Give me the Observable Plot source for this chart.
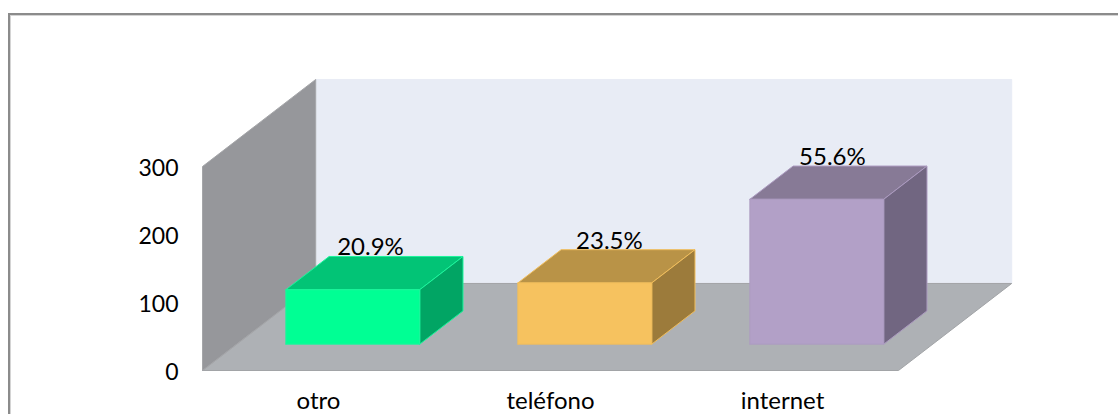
<!DOCTYPE html>
<html><head><meta charset="utf-8">
<script src="https://cdn.jsdelivr.net/npm/d3@7"></script>
<script src="https://cdn.jsdelivr.net/npm/@observablehq/plot@0.6"></script>
<style>
html,body{margin:0;padding:0;background:#fff;overflow:hidden}
#wrap{position:relative;width:1118px;height:414px}
#wrap svg{position:absolute;left:0;top:0;display:block}
#border{position:absolute;left:8px;top:13px;right:0;bottom:0;border-left:2px solid #8b8b8b;border-top:2px solid #8b8b8b;box-shadow:inset 1px 1px 0 #d4d4d4}
</style></head><body>
<div id="wrap"><div id="border"></div></div>
<script>
const categories = ["otro", "teléfono", "internet"];
const counts = [80, 90, 213];
const percents = ["20.9%", "23.5%", "55.6%"];
const tickValues = [0, 100, 200, 300];
const frontColors = ["#00ff94", "#f6c25f", "#b2a0c7"];
const topColors = ["#02c476", "#b99347", "#877a96"];
const sideColors = ["#01a564", "#9c7b3b", "#716681"];
const edgeColors = ["#1cf59c", "#f0bd5c", "#ac9bc0"];
const labelNudge = [-0.017, 0.013, -0.026];

// oblique projection: depth z in [0,1] shifts along x and y
const DX = 0.488, DY = 128, XMAX = 3, YMAX = 300;
const Z0 = 0.303, Z1 = 0.685, ZMID = 0.494, HALF = 0.2885;
const P = (x, y, z) => ({x: x + z * DX, y: y + z * DY});
const face = (id, fill, stroke, pts) => pts.concat([pts[0]]).map(p => ({...P(...p), id, fill, stroke}));

const faces = [
  ...face("back", "#e8ecf5", "#e8ecf5", [[0,0,1],[XMAX,0,1],[XMAX,YMAX,1],[0,YMAX,1]]),
  ...face("floor", "#aeb1b5", "#a2a4a7", [[0,0,0],[XMAX,0,0],[XMAX,0,1],[0,0,1]]),
  ...face("wall", "#96979b", "#a5a6a9", [[0,0,0],[0,0,1],[0,YMAX,1],[0,YMAX,0]])
];
categories.forEach((c, i) => {
  const l = i + 0.5 - HALF, r = i + 0.5 + HALF, v = counts[i];
  faces.push(
    ...face(c + "-top", topColors[i], edgeColors[i], [[l,v,Z0],[r,v,Z0],[r,v,Z1],[l,v,Z1]]),
    ...face(c + "-side", sideColors[i], edgeColors[i], [[r,0,Z0],[r,0,Z1],[r,v,Z1],[r,v,Z0]]),
    ...face(c + "-front", frontColors[i], edgeColors[i], [[l,0,Z0],[r,0,Z0],[r,v,Z0],[l,v,Z0]])
  );
});
const labels = categories.map((c, i) => ({x: i + 0.5 + labelNudge[i] + ZMID * DX, y: counts[i] + Z1 * DY, p: percents[i]}));
const axisLabels = categories.map((c, i) => ({x: i + 0.5, y: 0, c}));
const FONT = "Lato, Carlito, sans-serif";

const chart = Plot.plot({
  width: 1118, height: 414,
  marginLeft: 202, marginRight: 220, marginTop: 166, marginBottom: 44,
  style: {background: "transparent", fontFamily: FONT, color: "#000"},
  x: {domain: [0, XMAX], axis: null},
  y: {domain: [0, YMAX], axis: null},
  color: {type: "identity"},
  marks: [
    Plot.line(faces.filter(d => d.id === "back"), {x: "x", y: "y", z: "id", fill: "fill", stroke: "stroke", strokeWidth: 1}),
    Plot.text(labels, {x: "x", y: "y", text: "p", lineAnchor: "bottom", dy: -1, fontSize: 24, fill: "#000"}),
    Plot.line(faces.filter(d => d.id !== "back"), {x: "x", y: "y", z: "id", fill: "fill", stroke: "stroke", strokeWidth: 1}),
    Plot.axisY({ticks: tickValues, tickSize: 0, tickPadding: 24, fontSize: 23, fontFamily: FONT, label: null, tickFormat: d => String(d), dy: 2}),
    Plot.text(axisLabels, {x: "x", y: "y", text: "c", dy: 31, fontSize: 24, fill: "#000"})
  ]
});
document.getElementById("wrap").appendChild(chart);
</script>
</body></html>
